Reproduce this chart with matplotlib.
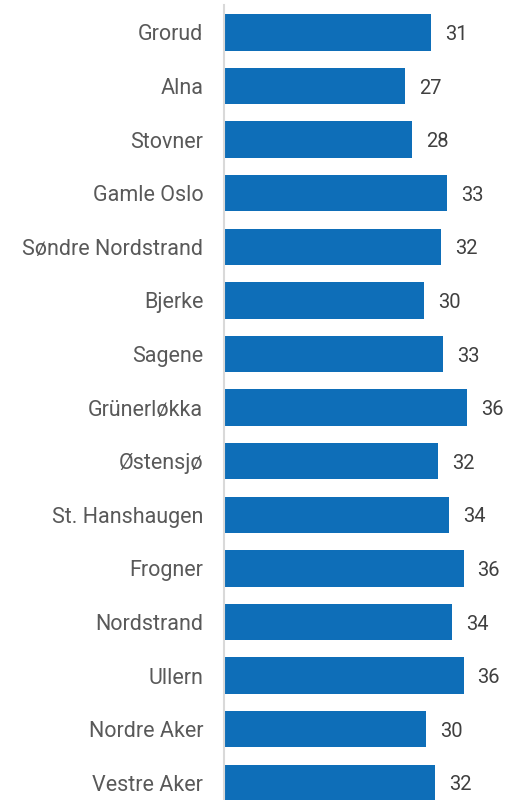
import numpy as np
import matplotlib
matplotlib.use("Agg")
from matplotlib import pyplot as plt

# bydeler og verdier (prosent), øverst til nederst
bydeler = ["Grorud", "Alna", "Stovner", "Gamle Oslo", "Søndre Nordstrand",
           "Bjerke", "Sagene", "Grünerløkka", "Østensjø", "St. Hanshaugen",
           "Frogner", "Nordstrand", "Ullern", "Nordre Aker", "Vestre Aker"]
verdier = [31.0, 27.05, 28.1, 33.4, 32.45,
           29.9, 32.8, 36.3, 32.0, 33.6,
           35.8, 34.1, 35.8, 30.2, 31.55]

blaa = "#0E6EB8"
tekst = "#404040"

plt.rcParams["font.family"] = ["Roboto", "DejaVu Sans"]

fig = plt.figure(figsize=(5.09, 8.0), dpi=100)
# aksen går helt ut til bunnen av figuren, siste stolpe blir kuttet
ax = fig.add_axes([224 / 509, 0.0, 285 / 509, 795 / 800])

y = np.arange(len(bydeler))
ax.barh(y, verdier, height=0.68, color=blaa)

for yi, v in zip(y, verdier):
    ax.annotate(f"{v:.0f}", xy=(v, yi), xytext=(10, -1.5),
                textcoords="offset points", ha="left", va="center",
                fontsize=14.5, color=tekst)

ax.set_xlim(0, 285 / 6.69)
ax.set_ylim(14.32, -0.51)
ax.set_yticks(y)
ax.set_yticklabels(bydeler, fontsize=15.5, color="#595959")
ax.tick_params(axis="y", length=0, pad=15)
ax.set_xticks([])

for side in ["top", "right", "bottom"]:
    ax.spines[side].set_visible(False)
ax.spines["left"].set_color("#D9D9D9")
ax.spines["left"].set_linewidth(1.5)

fig.savefig("out.png", dpi=100)
